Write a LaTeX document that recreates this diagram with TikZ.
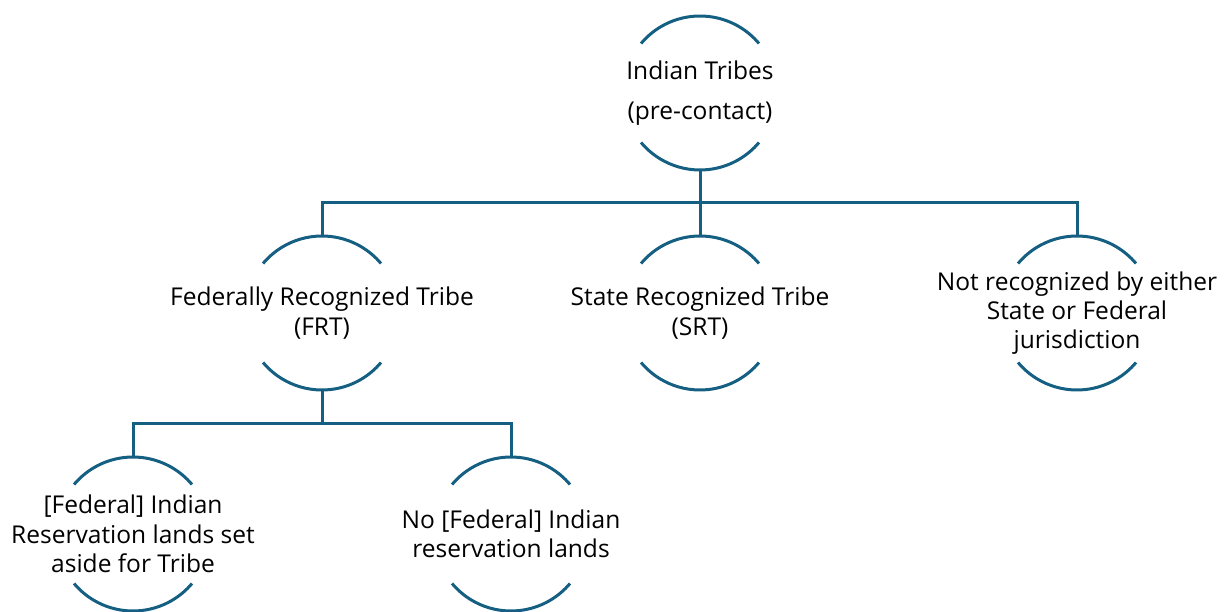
\documentclass[tikz,border=0pt]{standalone}
\usepackage{fontspec}
\setmainfont{Open Sans}
\usetikzlibrary{calc}
\definecolor{ringblue}{HTML}{156082}
\newcommand{\ringr}{77}
\tikzset{ring/.style={draw=ringblue, line width=2.25pt}}
\tikzset{link/.style={draw=ringblue, line width=2.25pt}}
\tikzset{tribe/.style={align=center, inner sep=0pt, font=\fontsize{18.4pt}{22pt}\selectfont}}
% two arcs of one circle round a node, plus its top and bottom points
\newcommand{\ringarcs}[1]{%
  \draw[ring] ($(#1)+(140:\ringr)$) arc[start angle=140, end angle=40, radius=\ringr];
  \draw[ring] ($(#1)+(220:\ringr)$) arc[start angle=220, end angle=320, radius=\ringr];
  \coordinate (#1-n) at ($(#1)+(0,\ringr)$);
  \coordinate (#1-s) at ($(#1)+(0,-\ringr)$);}

\begin{document}
\begin{tikzpicture}[x=0.75pt, y=0.75pt]
\useasboundingbox (0,0) rectangle (1225,611);

\node[tribe] (top) at (700,518) {Indian Tribes\\[8pt](pre-contact)};
\node[tribe] (frt) at (322,298) {Federally Recognized Tribe\\(FRT)};
\node[tribe] (srt) at (700,298) {State Recognized Tribe\\(SRT)};
\node[tribe] (nrt) at (1077,298) {Not recognized by either\\State or Federal\\jurisdiction};
\node[tribe] (res) at (133,77) {[Federal] Indian\\Reservation lands set\\aside for Tribe};
\node[tribe] (nores) at (511,77) {No [Federal] Indian\\reservation lands};

\ringarcs{top}
\ringarcs{frt}
\ringarcs{srt}
\ringarcs{nrt}
\ringarcs{res}
\ringarcs{nores}

\coordinate (bus1) at ($(top-s)!0.5!(srt-n)$);
\draw[link] (top-s) -- (bus1);
\draw[link] (srt-n) -- (bus1);
\draw[link] (frt-n) |- (bus1) -| (nrt-n);

\coordinate (bus2) at ($(frt-s)!0.5!(frt-s |- res-n)$);
\draw[link] (frt-s) -- (bus2);
\draw[link] (res-n) |- (bus2) -| (nores-n);

\end{tikzpicture}
\end{document}
